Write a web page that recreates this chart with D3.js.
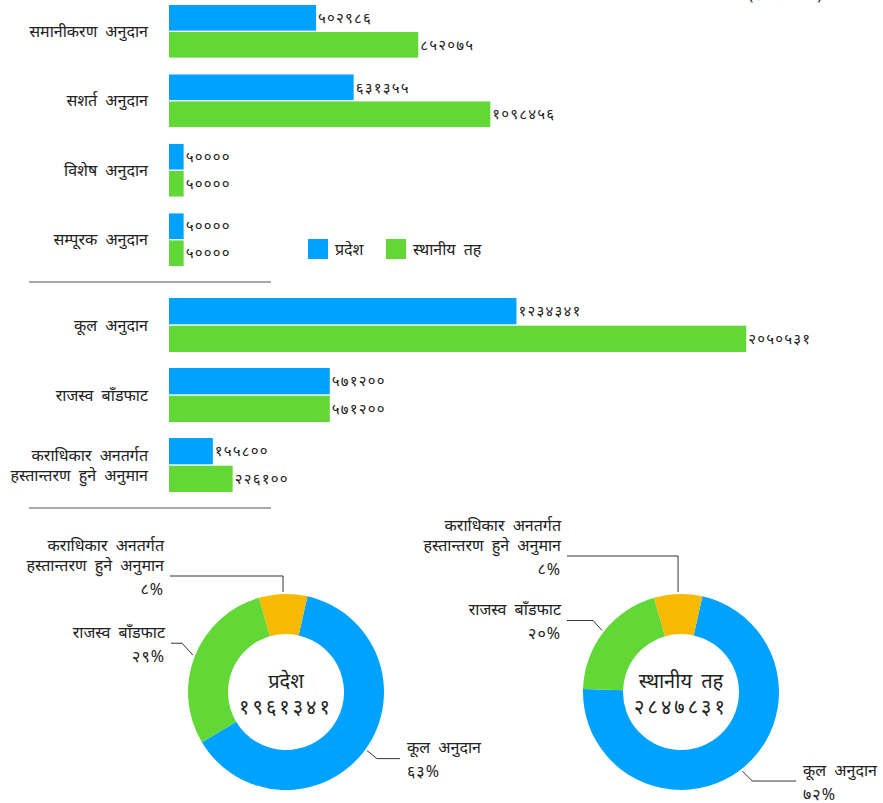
<!DOCTYPE html>
<html>
<head>
<meta charset="utf-8">
<script src="https://cdn.jsdelivr.net/npm/d3@7"></script>
<style>
  body { margin: 0; background: #fff; }
  text { font-family: "Noto Sans", "Lato", sans-serif; fill: #222; }
  .lbl { font-size: 16px; word-spacing: 4px; }
  .num { font-size: 15px; letter-spacing: 1.2px; }
</style>
</head>
<body>
<div id="chart"></div>
<script>
// grants, in lakh rupees
var topRows = ["समानीकरण अनुदान", "सशर्त अनुदान", "विशेष अनुदान", "सम्पूरक अनुदान"];
var topProvince = [502986, 631355, 50000, 50000];
var topLocal = [852075, 1098456, 50000, 50000];

var bottomRows = ["कूल अनुदान", "राजस्व बाँडफाट", "कराधिकार अनतर्गत\nहस्तान्तरण हुने अनुमान"];
var bottomProvince = [1234341, 571200, 155800];
var bottomLocal = [2050531, 571200, 226100];

var seriesNames = ["प्रदेश", "स्थानीय तह"];
var colors = ["#00a2ff", "#61d836", "#f8ba00"];
var unitLabel = "(रु. लाखमा)";

var width = 883, height = 803;

var digits = "०१२३४५६७८९";
function nep(n){
  return String(n).replace(/[0-9]/g, function(c){ return digits[+c]; });
}

var svg = d3.select("#chart").append("svg")
  .attr("width", width)
  .attr("height", height);

svg.append("text")
  .attr("class", "lbl")
  .attr("x", 822)
  .attr("y", 0)
  .attr("text-anchor", "end")
  .text(unitLabel);

// one grouped horizontal bar block
function drawBars(rows, prov, local, yRange, pad, xScale){
  var y = d3.scaleBand()
    .domain(rows)
    .range(yRange)
    .paddingInner(pad)
    .paddingOuter(0);

  var sub = d3.scaleBand()
    .domain([0, 1])
    .range([0, y.bandwidth()])
    .paddingInner(0.05);

  var data = rows.map(function(r, i){
    return {row: r, vals: [prov[i], local[i]]};
  });

  var g = svg.selectAll(null)
    .data(data)
    .enter()
    .append("g")
    .attr("transform", function(d){ return "translate(0," + y(d.row) + ")"; });

  g.selectAll("rect")
    .data(function(d){ return d.vals; })
    .enter()
    .append("rect")
    .attr("x", xScale(0))
    .attr("y", function(d, i){ return sub(i); })
    .attr("width", function(d){ return xScale(d) - xScale(0); })
    .attr("height", sub.bandwidth())
    .attr("fill", function(d, i){ return colors[i]; });

  g.selectAll(".num")
    .data(function(d){ return d.vals; })
    .enter()
    .append("text")
    .attr("class", "num")
    .attr("x", function(d){ return xScale(d) + 2; })
    .attr("y", function(d, i){ return sub(i) + sub.bandwidth() / 2; })
    .attr("dy", "0.35em")
    .text(function(d){ return nep(d); });

  // category labels, may wrap to two lines
  g.append("text")
    .attr("class", "lbl")
    .attr("text-anchor", "end")
    .each(function(d){
      var lines = d.row.split("\n");
      var t = d3.select(this);
      lines.forEach(function(l, i){
        t.append("tspan")
          .attr("x", 148)
          .attr("y", y.bandwidth() / 2 + (i - (lines.length - 1) / 2) * 20)
          .attr("dy", "0.35em")
          .text(l);
      });
    });
}

var xTop = d3.scaleLinear().domain([0, 1000000]).range([169, 169 + 292.5]);
var xBottom = d3.scaleLinear().domain([0, 1000000]).range([169, 169 + 281.5]);

drawBars(topRows, topProvince, topLocal, [5, 266], 0.243, xTop);
drawBars(bottomRows, bottomProvince, bottomLocal, [298, 492], 0.229, xBottom);

// separators
[282, 508].forEach(function(yy){
  svg.append("line")
    .attr("x1", 29).attr("x2", 271)
    .attr("y1", yy).attr("y2", yy)
    .attr("stroke", "#555")
    .attr("stroke-width", 1.2);
});

// legend
var legend = svg.append("g").attr("transform", "translate(308,239)");
var legX = [0, 78];
seriesNames.forEach(function(n, i){
  legend.append("rect")
    .attr("x", legX[i]).attr("y", 0)
    .attr("width", 20).attr("height", 20)
    .attr("fill", colors[i]);
  legend.append("text")
    .attr("class", "lbl")
    .attr("x", legX[i] + 27).attr("y", 10)
    .attr("dy", "0.35em")
    .text(n);
});

// donuts
var pieNames = ["कूल अनुदान", "राजस्व बाँडफाट", "कराधिकार अनतर्गत\nहस्तान्तरण हुने अनुमान"];
var pieTitles = ["प्रदेश", "स्थानीय तह"];
var pieProvince = [1234341, 571200, 155800];
var pieLocal = [2050531, 571200, 226100];

var start = 0.22;
var pie = d3.pie().sort(null).startAngle(start).endAngle(start + 2 * Math.PI);
var arc = d3.arc().innerRadius(58).outerRadius(98);

// leader line layout: elbow offset from the slice, end x of the line
var donuts = [
  {cx: 286, cy: 692, vals: pieProvince, title: pieTitles[0],
   leaders: [
     {elbow: [10, 8], endX: 400},
     {elbow: [-11, -12], endX: 171},
     {elbowY: 576, endX: 170}
   ]},
  {cx: 681, cy: 692, vals: pieLocal, title: pieTitles[1],
   leaders: [
     {elbow: [10, 10], endX: 796},
     {elbow: [-9, -10], endX: 567},
     {elbowY: 556, endX: 567}
   ]}
];

donuts.forEach(function(dn){
  var g = svg.append("g").attr("transform", "translate(" + dn.cx + "," + dn.cy + ")");
  var arcs = pie(dn.vals);
  var total = d3.sum(dn.vals);

  g.selectAll("path")
    .data(arcs)
    .enter()
    .append("path")
    .attr("d", arc)
    .attr("fill", function(d, i){ return colors[i]; });

  g.append("text")
    .attr("text-anchor", "middle")
    .attr("y", -10)
    .attr("dy", "0.3em")
    .style("font-size", "20px")
    .style("word-spacing", "4px")
    .text(dn.title);
  g.append("text")
    .attr("text-anchor", "middle")
    .attr("y", 15)
    .attr("dy", "0.35em")
    .style("font-size", "20px")
    .style("letter-spacing", "3px")
    .text(nep(total));

  arcs.forEach(function(a, i){
    var lay = dn.leaders[i];
    var mid = (a.startAngle + a.endAngle) / 2;
    var sx = dn.cx + 100 * Math.sin(mid), sy = dn.cy - 100 * Math.cos(mid);
    var ex, ey;
    if (lay.elbowY !== undefined){ ex = sx; ey = lay.elbowY; }
    else { ex = sx + lay.elbow[0]; ey = sy + lay.elbow[1]; }
    svg.append("polyline")
      .attr("points", [[sx, sy], [ex, ey], [lay.endX, ey]].map(function(p){ return p.join(","); }).join(" "))
      .attr("fill", "none")
      .attr("stroke", "#333")
      .attr("stroke-width", 1);

    var right = lay.endX > sx;
    var tx = right ? lay.endX + 7 : lay.endX - 6;
    var lines = pieNames[i].split("\n");
    var t = svg.append("text")
      .attr("class", "lbl")
      .attr("text-anchor", right ? "start" : "end");
    lines.forEach(function(l, k){
      t.append("tspan")
        .attr("x", tx)
        .attr("y", ey - 11 - (lines.length - 1 - k) * 20)
        .attr("dy", "0.35em")
        .text(l);
    });
    var pct = Math.round(a.value / total * 100);
    t.append("tspan")
      .attr("x", tx)
      .attr("y", ey + 13)
      .attr("dy", "0.35em")
      .style("letter-spacing", "1px")
      .text(nep(pct) + "%");
  });
});
</script>
</body>
</html>
